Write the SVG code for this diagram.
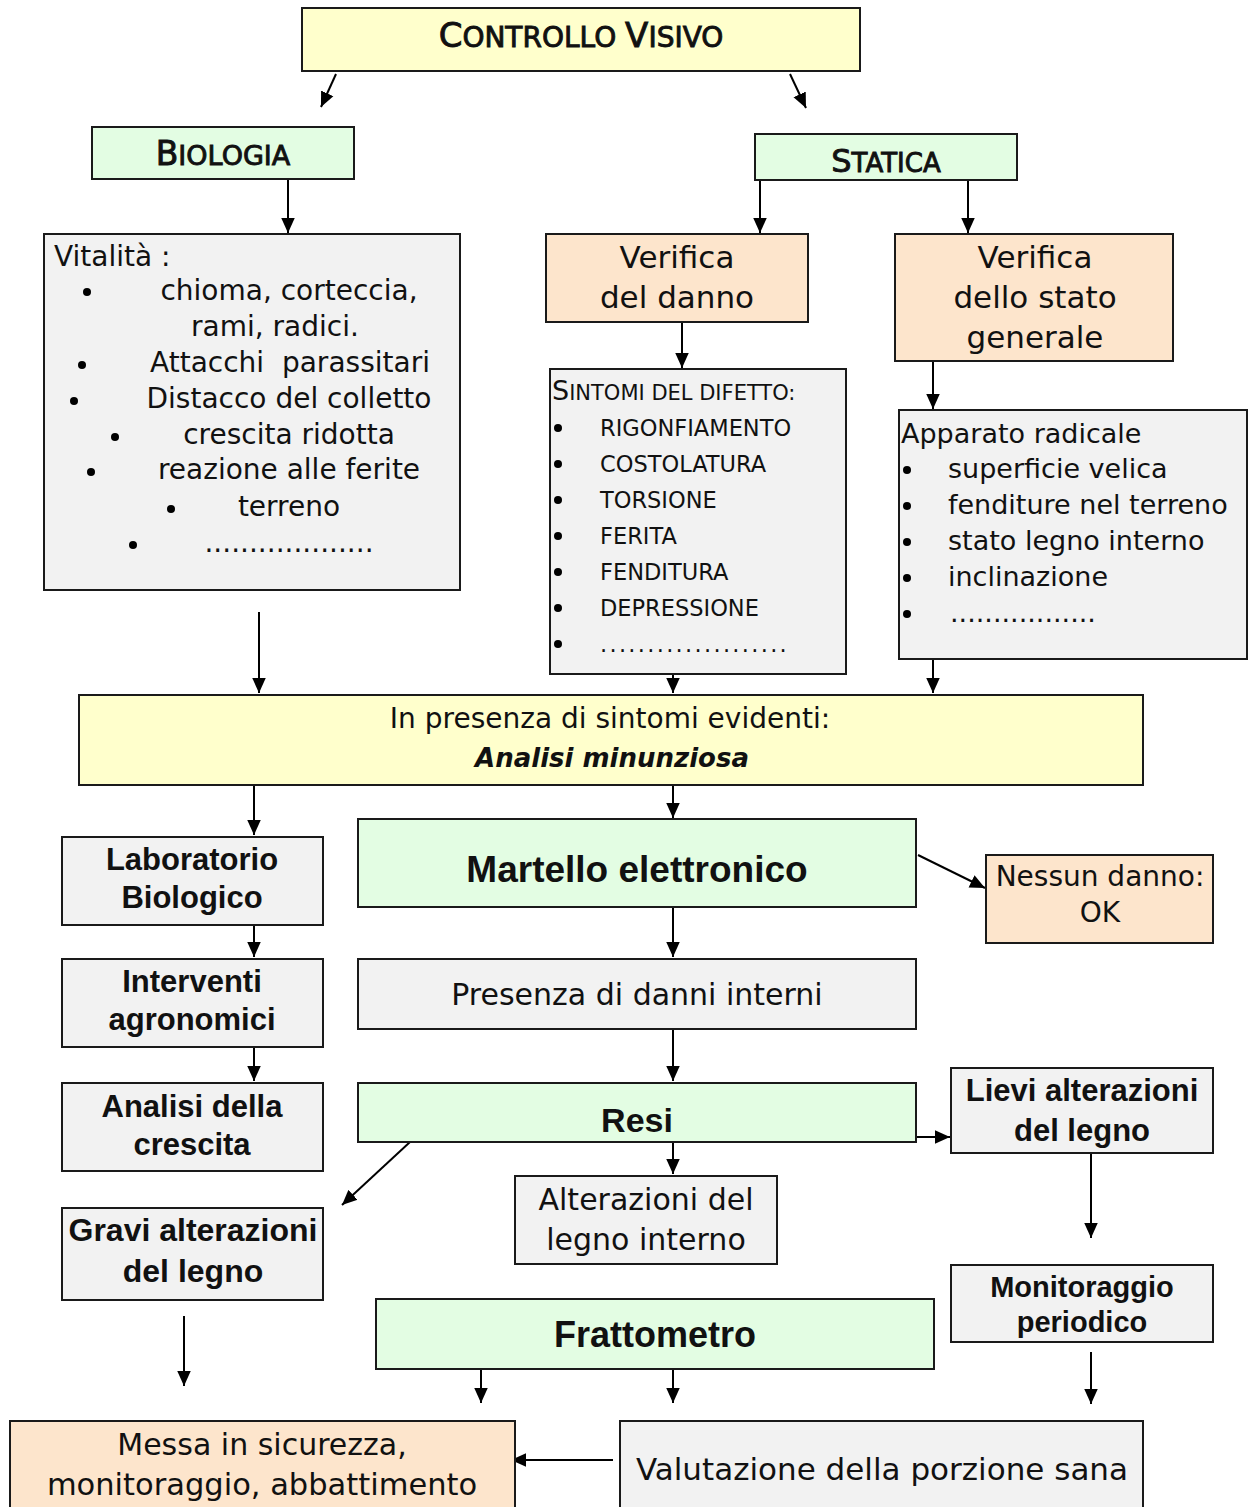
<svg xmlns="http://www.w3.org/2000/svg" width="1250" height="1507" viewBox="0 0 1250 1507">
<style>
.box{stroke:#1a1a1a;stroke-width:2}
.y{fill:#ffffcc}.g{fill:#e3fde3}.p{fill:#fde5cc}.w{fill:#f2f2f2}
.t{font-family:"DejaVu Sans",sans-serif;fill:#111}
.b{font-family:"Liberation Sans",Arial,sans-serif;font-weight:bold;fill:#111}
.sc{font-family:"DejaVu Sans",sans-serif;fill:#111;stroke:#111;stroke-width:0.9}
.c{text-anchor:middle}
.ln{stroke:#000;stroke-width:2;fill:none;marker-end:url(#ah)}
</style>
<defs>
<marker id="ah" viewBox="0 0 10 10" refX="10" refY="5" markerWidth="15" markerHeight="15" markerUnits="userSpaceOnUse" orient="auto">
<path d="M0,0.5 L10,5 L0,9.5 z" fill="#000"/>
</marker>
</defs>
<rect width="1250" height="1507" fill="#fff"/>

<g id="connectors">
<line class="ln" x1="336" y1="74" x2="321" y2="107"/>
<line class="ln" x1="790" y1="74" x2="806" y2="108"/>
<line class="ln" x1="288" y1="180" x2="288" y2="233"/>
<line class="ln" x1="760" y1="180" x2="760" y2="233"/>
<line class="ln" x1="968" y1="180" x2="968" y2="233"/>
<line class="ln" x1="682" y1="323" x2="682" y2="368"/>
<line class="ln" x1="933" y1="358" x2="933" y2="409"/>
<line class="ln" x1="259" y1="612" x2="259" y2="693"/>
<line class="ln" x1="673" y1="652" x2="673" y2="693"/>
<line class="ln" x1="933" y1="660" x2="933" y2="693"/>
<line class="ln" x1="254" y1="786" x2="254" y2="835"/>
<line class="ln" x1="673" y1="786" x2="673" y2="818"/>
<line class="ln" x1="254" y1="926" x2="254" y2="957"/>
<line class="ln" x1="254" y1="1048" x2="254" y2="1081"/>
<line class="ln" x1="918" y1="855" x2="985" y2="888"/>
<line class="ln" x1="673" y1="907" x2="673" y2="957"/>
<line class="ln" x1="673" y1="1030" x2="673" y2="1081"/>
<line class="ln" x1="916" y1="1137" x2="950" y2="1137"/>
<line class="ln" x1="1091" y1="1153" x2="1091" y2="1238"/>
<line class="ln" x1="1091" y1="1352" x2="1091" y2="1404"/>
<line class="ln" x1="673" y1="1143" x2="673" y2="1174"/>
<line class="ln" x1="410" y1="1142" x2="342" y2="1205"/>
<line class="ln" x1="184" y1="1316" x2="184" y2="1386"/>
<line class="ln" x1="481" y1="1370" x2="481" y2="1403"/>
<line class="ln" x1="673" y1="1370" x2="673" y2="1403"/>
<line class="ln" x1="613" y1="1460" x2="511" y2="1460"/>
</g>

<g id="controllo-visivo">
<rect class="box y" x="302" y="8" width="558" height="63"/>
<text class="sc c" x="581" y="47" font-size="28"><tspan font-size="34">C</tspan>ONTROLLO <tspan font-size="34">V</tspan>ISIVO</text>
</g>

<g id="biologia">
<rect class="box g" x="92" y="127" width="262" height="52"/>
<text class="sc c" x="223" y="165" font-size="27"><tspan font-size="33">B</tspan>IOLOGIA</text>
</g>

<g id="statica">
<rect class="box g" x="755" y="134" width="262" height="46"/>
<text class="sc c" x="886" y="172" font-size="26"><tspan font-size="32">S</tspan>TATICA</text>
</g>

<g id="vitalita">
<rect class="box w" x="44" y="234" width="416" height="356"/>
<text class="t" x="54" y="266" font-size="28">Vitalità :</text>
<g fill="#000">
<circle cx="87" cy="292" r="4"/>
<circle cx="82" cy="365" r="4"/>
<circle cx="74" cy="401" r="4"/>
<circle cx="115" cy="437" r="4"/>
<circle cx="91" cy="472" r="4"/>
<circle cx="171" cy="509" r="4"/>
<circle cx="133" cy="545" r="4"/>
</g>
<g class="t c" font-size="28">
<text x="289" y="300">chioma, corteccia,</text>
<text x="275" y="336">rami, radici.</text>
<text x="290" y="372" style="white-space:pre">Attacchi  parassitari</text>
<text x="289" y="408">Distacco del colletto</text>
<text x="289" y="444">crescita ridotta</text>
<text x="289" y="479">reazione alle ferite</text>
<text x="289" y="516">terreno</text>
<text x="289" y="552">...................</text>
</g>
</g>

<g id="verifica-danno">
<rect class="box p" x="546" y="234" width="262" height="88"/>
<text class="t c" x="677" y="268" font-size="31">Verifica</text>
<text class="t c" x="677" y="308" font-size="31">del danno</text>
</g>

<g id="verifica-stato">
<rect class="box p" x="895" y="234" width="278" height="127"/>
<text class="t c" x="1035" y="268" font-size="31">Verifica</text>
<text class="t c" x="1035" y="308" font-size="31">dello stato</text>
<text class="t c" x="1035" y="348" font-size="31">generale</text>
</g>

<g id="sintomi">
<rect class="box w" x="550" y="369" width="296" height="305"/>
<text class="t" x="552" y="400" font-size="21"><tspan font-size="27">S</tspan>INTOMI DEL DIFETTO:</text>
<g fill="#000">
<circle cx="558" cy="428" r="4"/>
<circle cx="558" cy="464" r="4"/>
<circle cx="558" cy="500" r="4"/>
<circle cx="558" cy="536" r="4"/>
<circle cx="558" cy="572" r="4"/>
<circle cx="558" cy="608" r="4"/>
<circle cx="558" cy="644" r="4"/>
</g>
<g class="t" font-size="22.5">
<text x="600" y="436">RIGONFIAMENTO</text>
<text x="600" y="472">COSTOLATURA</text>
<text x="600" y="508">TORSIONE</text>
<text x="600" y="544">FERITA</text>
<text x="600" y="580">FENDITURA</text>
<text x="600" y="616">DEPRESSIONE</text>
<text x="600" y="652" letter-spacing="2.3">....................</text>
</g>
</g>

<g id="apparato">
<rect class="box w" x="899" y="410" width="348" height="249"/>
<text class="t" x="901" y="443" font-size="27">Apparato radicale</text>
<g fill="#000">
<circle cx="907" cy="470" r="4"/>
<circle cx="907" cy="506" r="4"/>
<circle cx="907" cy="542" r="4"/>
<circle cx="907" cy="578" r="4"/>
<circle cx="907" cy="614" r="4"/>
</g>
<g class="t" font-size="27">
<text x="948" y="478">superficie velica</text>
<text x="948" y="514">fenditure nel terreno</text>
<text x="948" y="550">stato legno interno</text>
<text x="948" y="586">inclinazione</text>
<text x="950" y="622">.................</text>
</g>
</g>

<g id="analisi-minunziosa">
<rect class="box y" x="79" y="695" width="1064" height="90"/>
<text class="t c" x="610" y="728" font-size="28">In presenza di sintomi evidenti:</text>
<text class="t c" x="612" y="767" font-size="26" font-weight="bold" font-style="italic">Analisi minunziosa</text>
</g>

<g id="laboratorio">
<rect class="box w" x="62" y="837" width="261" height="88"/>
<text class="b c" x="192" y="870" font-size="31">Laboratorio</text>
<text class="b c" x="192" y="908" font-size="31">Biologico</text>
</g>

<g id="interventi">
<rect class="box w" x="62" y="959" width="261" height="88"/>
<text class="b c" x="192" y="992" font-size="31">Interventi</text>
<text class="b c" x="192" y="1030" font-size="31">agronomici</text>
</g>

<g id="analisi-crescita">
<rect class="box w" x="62" y="1083" width="261" height="88"/>
<text class="b c" x="192" y="1117" font-size="31">Analisi della</text>
<text class="b c" x="192" y="1155" font-size="31">crescita</text>
</g>

<g id="martello">
<rect class="box g" x="358" y="819" width="558" height="88"/>
<text class="b c" x="637" y="882" font-size="37">Martello elettronico</text>
</g>

<g id="nessun-danno">
<rect class="box p" x="986" y="855" width="227" height="88"/>
<text class="t c" x="1100" y="886" font-size="28">Nessun danno:</text>
<text class="t c" x="1100" y="922" font-size="28">OK</text>
</g>

<g id="danni-interni">
<rect class="box w" x="358" y="959" width="558" height="70"/>
<text class="t c" x="637" y="1005" font-size="30">Presenza di danni interni</text>
</g>

<g id="resi">
<rect class="box g" x="358" y="1083" width="558" height="59"/>
<text class="b c" x="637" y="1132" font-size="34">Resi</text>
</g>

<g id="lievi">
<rect class="box w" x="951" y="1068" width="262" height="85"/>
<text class="b c" x="1082" y="1101" font-size="31">Lievi alterazioni</text>
<text class="b c" x="1082" y="1141" font-size="31">del legno</text>
</g>

<g id="alterazioni-interno">
<rect class="box w" x="515" y="1176" width="262" height="88"/>
<text class="t c" x="646" y="1210" font-size="30">Alterazioni del</text>
<text class="t c" x="646" y="1250" font-size="30">legno interno</text>
</g>

<g id="gravi">
<rect class="box w" x="62" y="1208" width="261" height="92"/>
<text class="b c" x="193" y="1241" font-size="32">Gravi alterazioni</text>
<text class="b c" x="193" y="1282" font-size="32">del legno</text>
</g>

<g id="monitoraggio">
<rect class="box w" x="951" y="1265" width="262" height="77"/>
<text class="b c" x="1082" y="1297" font-size="29">Monitoraggio</text>
<text class="b c" x="1082" y="1332" font-size="29">periodico</text>
</g>

<g id="frattometro">
<rect class="box g" x="376" y="1299" width="558" height="70"/>
<text class="b c" x="655" y="1347" font-size="36">Frattometro</text>
</g>

<g id="messa-sicurezza">
<rect class="box p" x="10" y="1421" width="505" height="95"/>
<text class="t c" x="262" y="1455" font-size="30">Messa in sicurezza,</text>
<text class="t c" x="262" y="1495" font-size="30.5">monitoraggio, abbattimento</text>
</g>

<g id="valutazione">
<rect class="box w" x="620" y="1421" width="523" height="95"/>
<text class="t c" x="882" y="1480" font-size="31">Valutazione della porzione sana</text>
</g>
</svg>
